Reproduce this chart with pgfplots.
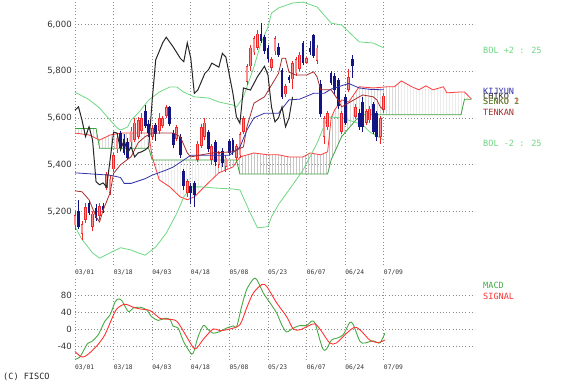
\documentclass[border=0pt]{standalone}
\usepackage{fontspec}
\setmainfont{DejaVu Sans}
\newfontfamily\monofont{DejaVu Sans Mono}
\usepackage{pgfplots}
\pgfplotsset{compat=1.18}
\usepackage{pgfplotstable}
\usepgfplotslibrary{fillbetween}
\usetikzlibrary{patterns}

\definecolor{bolgreen}{RGB}{110,215,130}
\definecolor{sentwo}{RGB}{60,160,60}
\definecolor{senone}{RGB}{255,60,60}
\definecolor{tenkanc}{RGB}{165,45,45}
\definecolor{kijunc}{RGB}{50,50,170}
\definecolor{cblue}{RGB}{20,20,130}
\definecolor{cred}{RGB}{240,40,40}
\definecolor{cpink}{RGB}{255,140,140}
\definecolor{gridgray}{RGB}{140,140,140}
\definecolor{macdg}{RGB}{70,170,70}
\definecolor{sigr}{RGB}{255,50,50}

% up candles: i low bodylow bodyhigh high
\pgfplotstableread{
i lo bl bh hi
0 5120 5140 5185 5200
2 5080 5105 5145 5160
3 5150 5165 5218 5235
5 5115 5135 5190 5200
7 5165 5180 5222 5235
9 5290 5300 5360 5370
10 5270 5280 5340 5355
11 5370 5380 5440 5450
12 5450 5465 5515 5530
16 5480 5495 5545 5560
17 5495 5505 5580 5600
18 5510 5520 5590 5605
19 5530 5545 5600 5620
22 5505 5520 5555 5570
24 5530 5545 5600 5620
25 5555 5565 5600 5610
26 5600 5610 5645 5655
29 5500 5510 5560 5570
32 5260 5280 5330 5340
35 5410 5420 5490 5500
36 5470 5480 5560 5575
37 5505 5520 5580 5600
39 5400 5420 5480 5490
41 5385 5400 5450 5460
43 5370 5390 5430 5440
46 5420 5430 5480 5490
47 5430 5440 5530 5540
48 5530 5540 5600 5610
49 5740 5755 5820 5830
50 5800 5820 5900 5910
51 5870 5880 5940 5950
52 5890 5900 5960 5975
56 5800 5815 5850 5860
57 5870 5885 5940 5950
60 5690 5700 5735 5745
62 5725 5765 5835 5845
63 5780 5790 5850 5860
64 5800 5810 5870 5880
66 5830 5835 5855 5860
69 5830 5845 5900 5910
71 5490 5520 5600 5610
72 5550 5560 5620 5630
76 5530 5540 5620 5630
78 5710 5720 5775 5810
80 5595 5605 5645 5660
83 5570 5580 5630 5640
84 5580 5590 5640 5650
87 5490 5520 5600 5610
88 5620 5635 5695 5705
}\upc

% down candles: i low bodylow bodyhigh high
\pgfplotstableread{
i lo bl bh hi
1 5125 5135 5200 5250
4 5185 5195 5238 5250
6 5160 5170 5215 5230
8 5195 5205 5225 5235
13 5460 5470 5535 5545
14 5440 5450 5510 5530
15 5425 5430 5495 5515
20 5555 5565 5630 5655
21 5520 5535 5575 5590
23 5500 5530 5570 5580
27 5565 5575 5645 5650
28 5470 5485 5535 5550
30 5430 5440 5520 5530
31 5290 5310 5375 5380
33 5230 5280 5310 5320
34 5220 5270 5320 5330
38 5455 5465 5540 5550
40 5395 5410 5495 5505
42 5390 5405 5460 5470
44 5440 5450 5500 5510
45 5440 5455 5505 5515
53 5920 5930 5960 6005
54 5875 5885 5945 5955
55 5840 5850 5900 5910
58 5860 5870 5905 5920
59 5680 5690 5805 5815
61 5750 5760 5775 5785
65 5825 5835 5920 5930
67 5870 5880 5900 5930
68 5855 5865 5955 5960
70 5605 5615 5745 5760
73 5740 5750 5790 5800
74 5700 5720 5780 5790
75 5640 5650 5760 5770
77 5570 5580 5690 5700
79 5770 5820 5850 5870
81 5550 5560 5620 5640
82 5540 5560 5670 5690
85 5530 5540 5660 5670
86 5500 5520 5620 5630
}\downc

\pgfplotsset{
  chartbase/.style={
    scale only axis, clip=false,
    xmin=0, xmax=114, width=400bp,
    axis line style={draw=none},
    major tick length=0pt, tick style={draw=none},
    xtick={0,11,22,33,44,55,66,77,88},
    xticklabels={03/01,03/18,04/03,04/18,05/08,05/23,06/07,06/24,07/09},
    xticklabel style={font=\monofont\fontsize{6.3}{7}\selectfont, anchor=north west, inner sep=0pt, yshift=-5bp, text=black!80},
    yticklabel style={font=\fontsize{8.6}{10}\selectfont, anchor=east, inner sep=0pt, xshift=-3bp, text=black!80},
    /pgf/number format/assume math mode=true,
    /pgf/number format/1000 sep={,},
    grid=major,
    grid style={gridgray, line width=0.7bp, dash pattern=on 1bp off 2.2bp},
  },
  wick/.style={forget plot, draw=none, mark=none, error bars/.cd, y dir=plus, y explicit, error mark=none},
}

\begin{document}
\begin{tikzpicture}[x=1bp,y=1bp]

\begin{axis}[chartbase, at={(75bp,121bp)}, anchor=south west,
  height=265bp, ymin=4971, ymax=6104,
  ytick={5200,5400,5600,5800,6000}]

% Senkou spans and cloud
\addplot[name path=sA, senone, line width=0.8bp] coordinates {
(0,5535)(4,5527)(7,5505)(10,5527)(13,5535)(21,5535)(22,5433)(24,5335)(27,5305)(30,5262)(32,5250)(34,5262)(38,5322)(41,5365)(45,5390)(47,5433)(51,5450)(55,5442)(58,5442)(61,5433)(65,5433)(67,5450)(70,5442)(72,5455)(73,5600)(74,5634)(76,5677)(78,5668)(81,5733)(85,5728)(89,5733)(91,5733)(93,5758)(96,5733)(98,5720)(100,5737)(102,5720)(105,5733)(106,5707)(110,5711)(111,5711)(113,5680)};
\addplot[name path=sB, sentwo, line width=0.8bp] coordinates {
(0,5555)(6,5555)(7,5470)(21,5470)(22,5420)(46,5420)(47,5360)(72,5360)(73,5420)(76,5520)(80,5590)(82,5613)(110,5613)(111,5680)(113,5680)};
\addplot[pattern=vertical lines, pattern color=gray!45, draw=none] fill between[of=sA and sB];

% Bollinger bands
\addplot[bolgreen, line width=0.8bp] coordinates {
(0,5710)(4,5678)(7,5642)(10,5591)(12,5557)(13,5548)(15,5561)(16,5591)(18,5620)(21,5676)(24,5710)(27,5732)(29,5732)(31,5710)(34,5690)(38,5685)(41,5668)(45,5655)(46,5646)(48,5690)(51,5818)(53,5920)(55,5988)(56,6048)(58,6070)(62,6091)(65,6095)(69,6074)(73,6005)(76,5997)(81,5925)(85,5920)(88,5899)};
\addplot[bolgreen, line width=0.8bp] coordinates {
(0,5135)(2,5080)(5,5023)(7,5000)(10,5023)(13,5045)(16,5035)(18,5023)(20,5013)(23,5048)(26,5107)(29,5192)(31,5262)(33,5305)(36,5305)(40,5300)(45,5296)(47,5292)(50,5192)(52,5130)(55,5135)(56,5177)(58,5230)(61,5292)(65,5377)(69,5492)(72,5604)(76,5600)(82,5570)(84,5540)(88,5505)};

% Candles: wicks
\addplot[wick, error bar style={line width=0.8bp, cred}] table[x=i, y=lo, y error expr=\thisrow{hi}-\thisrow{lo}] {\upc};
\addplot[wick, error bar style={line width=0.8bp, cblue}] table[x=i, y=lo, y error expr=\thisrow{hi}-\thisrow{lo}] {\downc};
% bodies
\addplot[wick, error bar style={line width=2.7bp, cred}] table[x=i, y=bl, y error expr=\thisrow{bh}-\thisrow{bl}] {\upc};
\addplot[wick, error bar style={line width=1.3bp, cpink}] table[x=i, y expr=\thisrow{bl}+3, y error expr={max(\thisrow{bh}-\thisrow{bl}-6,0)}] {\upc};
\addplot[wick, error bar style={line width=2.7bp, cblue}] table[x=i, y=bl, y error expr=\thisrow{bh}-\thisrow{bl}] {\downc};

% Kijun
\addplot[kijunc, line width=0.8bp] coordinates {
(0,5365)(10,5355)(13,5345)(14,5320)(16,5320)(18,5330)(20,5340)(22,5355)(26,5377)(28,5390)(31,5420)(33,5440)(44,5440)(47,5475)(49,5548)(51,5600)(54,5620)(58,5620)(61,5677)(64,5680)(68,5705)(71,5705)(73,5723)(78,5747)(81,5728)(84,5722)(88,5720)};
% Tenkan
\addplot[tenkanc, line width=0.8bp] coordinates {
(0,5288)(2,5284)(4,5250)(6,5177)(7,5155)(8,5205)(10,5279)(11,5363)(13,5400)(16,5434)(18,5494)(20,5520)(22,5535)(28,5535)(30,5520)(32,5450)(33,5433)(36,5442)(39,5450)(45,5455)(48,5476)(49,5562)(51,5663)(54,5690)(56,5740)(58,5790)(59,5855)(60,5855)(61,5795)(63,5783)(66,5783)(68,5797)(69,5775)(70,5720)(73,5720)(75,5676)(76,5647)(78,5664)(81,5690)(82,5698)(85,5690)(86,5677)(87,5647)(88,5634)};
% Chikou
\addplot[black!85, line width=1bp] coordinates {
(0,5633)(1,5647)(2,5590)(3,5520)(4,5562)(5,5506)(6,5327)(7,5314)(8,5322)(9,5305)(10,5420)(11,5539)(12,5535)(13,5463)(14,5506)(15,5450)(16,5476)(17,5433)(18,5450)(19,5455)(20,5463)(21,5476)(22,5676)(23,5848)(25,5921)(26,5945)(28,5903)(30,5855)(31,5840)(32,5921)(33,5855)(34,5705)(35,5719)(37,5790)(38,5805)(39,5834)(41,5817)(42,5876)(43,5860)(45,5705)(46,5605)(47,5577)(48,5728)(50,5719)(52,5776)(54,5821)(55,5783)(56,5647)(57,5583)(58,5600)(59,5647)(60,5562)(61,5600)(62,5690)};
\end{axis}

\begin{axis}[chartbase, at={(75bp,26bp)}, anchor=south west,
  height=83bp, ymin=-71, ymax=124,
  ytick={-40,0,40,80}]
\addplot[macdg, line width=0.9bp, smooth] coordinates {
(0,-69)(1.4,-64)(3.5,-33)(4.7,-28)(6.6,-12)(8.5,20)(10,35)(11.4,65)(12.3,72)(13.3,69)(15.2,43)(16.6,51)(18.5,53)(20.4,47)(21.8,31)(23.7,22)(25.6,27)(27.1,24)(28,8)(29.4,4)(30.9,-27)(32.8,-53)(33.7,-55)(35.1,-16)(36.6,10)(38,0)(39.4,-8)(41.3,-4)(43.2,4)(45.1,9)(46.1,8)(47.5,55)(48.9,94)(50.8,119)(51.8,118)(53.7,86)(55.6,63)(57.5,39)(58.9,12)(60.3,-5)(62.2,4)(64.1,10)(66,10)(67.4,20)(68.4,16)(69.8,-24)(70.8,-47)(71.7,-45)(73.1,-24)(74.5,-20)(76.4,-12)(78.3,17)(79.3,12)(81.2,-27)(82.6,-31)(85,-26)(86.9,-31)(88.3,-8)};
\addplot[sigr, line width=0.9bp, smooth] coordinates {
(0,-51)(1.9,-64)(3.5,-59)(6.2,-38)(8.5,-12)(10.4,24)(11.9,49)(14.2,60)(16.6,53)(18.5,49)(21.4,45)(24.2,27)(26.1,25)(29,20)(31.8,-16)(34.2,-45)(36.6,-22)(39.4,2)(41.3,-2)(44.2,2)(47,12)(48.9,51)(50.8,86)(53.2,106)(54.6,102)(57.5,63)(60.3,31)(62.2,2)(64.1,0)(66.5,9)(68.4,14)(70.3,-4)(72.6,-31)(74.5,-31)(77.4,-8)(79.8,6)(81.7,-4)(84,-24)(86.4,-30)(88.3,-24)};
\end{axis}

% Labels
\begin{scope}[every node/.style={anchor=west, inner sep=0pt, font=\monofont\fontsize{8.6}{10}\selectfont}]
\node[text=bolgreen] at (483bp,336bp) {BOL +2 : 25};
\node[text=kijunc] at (483bp,295bp) {KIJYUN};
\node[text=black!80] at (483bp,290bp) {CHIKO};
\node[text=senone] at (483bp,285bp) {SENKO 1};
\node[text=sentwo] at (483bp,285bp) {SENKO 2};
\node[text=tenkanc] at (483bp,274bp) {TENKAN};
\node[text=bolgreen] at (483bp,243bp) {BOL -2 : 25};
\node[text=macdg] at (483bp,101bp) {MACD};
\node[text=sigr] at (483bp,90bp) {SIGNAL};
\node[text=black!85] at (3bp,9bp) {(C) FISCO};
\end{scope}
\pgfresetboundingbox
\useasboundingbox (0bp,0bp) rectangle (562bp,386bp);
\end{tikzpicture}
\end{document}
